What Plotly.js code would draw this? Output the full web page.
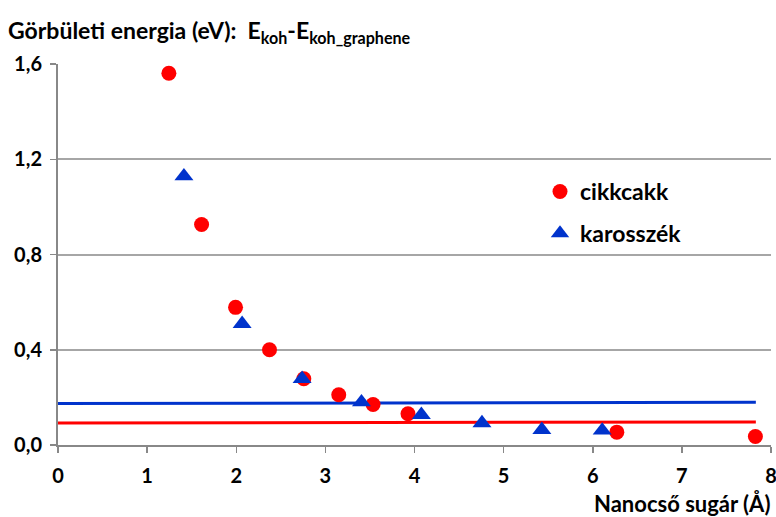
<!DOCTYPE html>
<html>
<head>
<meta charset="utf-8">
<script src="https://cdn.plot.ly/plotly-3.0.1.min.js"></script>
<style>html,body{margin:0;padding:0;background:#fff;}#chart{width:776px;height:517px;}</style>
</head>
<body>
<div id="chart"></div>
<script>
// cikkcakk (zigzag) nanotubes
const zigzagRadius = [1.244, 1.611, 1.992, 2.373, 2.758, 3.150, 3.535, 3.927, 6.270, 7.825];
const zigzagEnergy = [1.561, 0.926, 0.578, 0.400, 0.278, 0.211, 0.170, 0.131, 0.054, 0.036];
// karosszék (armchair) nanotubes
const armchairRadius = [1.413, 2.066, 2.739, 3.405, 4.077, 4.757, 5.429, 6.106];
const armchairEnergy = [1.129, 0.509, 0.278, 0.180, 0.127, 0.092, 0.064, 0.061];
// horizontal reference lines
const blueLineX = [0, 7.83];
const blueLineY = [0.174, 0.180];
const redLineX = [0, 7.83];
const redLineY = [0.092, 0.097];
const seriesNames = ['cikkcakk', 'karosszék'];
const yTicks = [0, 0.4, 0.8, 1.2, 1.6];
const xTicks = [0, 1, 2, 3, 4, 5, 6, 7, 8];

const FONT = 'Lato, "Open Sans", sans-serif';
const RED = '#ff0000';
const BLUE = '#0033cc';

const traces = [
  {x: blueLineX, y: blueLineY, mode: 'lines', line: {color: BLUE, width: 3}, showlegend: false, hoverinfo: 'skip'},
  {x: redLineX, y: redLineY, mode: 'lines', line: {color: RED, width: 3}, showlegend: false, hoverinfo: 'skip'},
  {x: zigzagRadius, y: zigzagEnergy, mode: 'markers', name: seriesNames[0], legendgroup: 'a',
   marker: {symbol: 'circle', color: RED, size: 15}},
  {x: armchairRadius, y: armchairEnergy, mode: 'markers', name: seriesNames[1], legendgroup: 'b',
   marker: {symbol: 'triangle-up', color: BLUE, size: 16.5}}
];

const layout = {
  width: 776, height: 517,
  margin: {l: 58, r: 5, t: 64, b: 72},
  paper_bgcolor: '#fff', plot_bgcolor: '#fff',
  separators: ', ',
  font: {family: FONT, color: '#000', size: 20},
  title: {
    text: '<b>Görbületi energia (eV):  E<sub>koh</sub>-E<sub>koh_graphene</sub></b>',
    font: {family: FONT, size: 23, color: '#000'},
    xref: 'container', yref: 'container', x: 8/776, xanchor: 'left', y: 1 - 31/517, yanchor: 'middle'
  },
  xaxis: {
    range: [0, 8], tickvals: xTicks, ticktext: xTicks.map(String),
    showgrid: false, zeroline: false, showline: true, linecolor: '#888', linewidth: 2,
    ticks: 'outside', ticklen: 6, tickwidth: 1.5, tickcolor: '#888',
    tickfont: {family: FONT, size: 20, color: '#000', weight: 'bold'},
    ticklabelstandoff: 6, ticklabeloverflow: 'allow'
  },
  yaxis: {
    range: [0, 1.6], tickvals: yTicks, tickformat: '.1f',
    showgrid: true, gridcolor: '#a6a6a6', gridwidth: 2,
    zeroline: false, showline: true, linecolor: '#888', linewidth: 2,
    ticks: 'outside', ticklen: 6, tickwidth: 1.5, tickcolor: '#888',
    tickfont: {family: FONT, size: 20, color: '#000', weight: 'bold'},
    ticklabelstandoff: 4
  },
  legend: {
    x: (540 - 58) / 713, y: (445 - 170) / 381, xanchor: 'left', yanchor: 'top',
    bgcolor: 'rgba(0,0,0,0)', tracegroupgap: 9, itemwidth: 30,
    font: {family: FONT, size: 23, color: '#000', weight: 'bold'}
  },
  annotations: [{
    text: '<b>Nanocső sugár (Å)</b>', xref: 'paper', yref: 'paper',
    x: (772 - 58) / 713, y: (445 - 503) / 381, xanchor: 'right', yanchor: 'middle', showarrow: false,
    font: {family: FONT, size: 22, color: '#000'}
  }]
};

Plotly.newPlot('chart', traces, layout, {displayModeBar: false, staticPlot: true});
</script>
</body>
</html>
